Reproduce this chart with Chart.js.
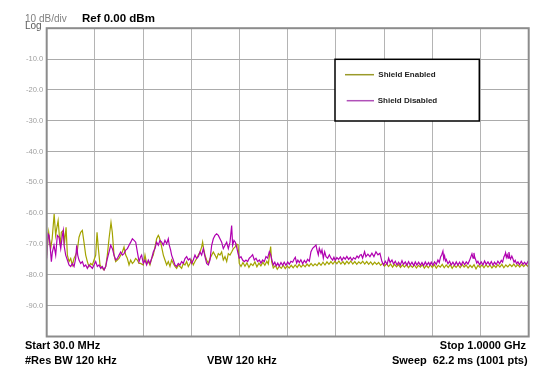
<!DOCTYPE html>
<html>
<head>
<meta charset="utf-8">
<script src="https://cdn.jsdelivr.net/npm/chart.js@4.4.1/dist/chart.umd.min.js"></script>
<style>
  html, body { margin: 0; padding: 0; background: #fff; }
  #wrap { position: relative; width: 540px; height: 379px; overflow: hidden; font-family: "Liberation Sans", Arial, sans-serif; }
  #wrap canvas { position: absolute; left: 0; top: 0; }
  .t { position: absolute; white-space: pre; line-height: 1; }
  .b { font-weight: bold; color: #000; }
</style>
</head>
<body>
<div id="wrap">
  <canvas id="c" width="540" height="379"></canvas>
  <div class="t" style="left:25px;top:14px;font-size:10px;color:#808080;">10 dB/div</div>
  <div class="t" style="left:25px;top:21px;font-size:10px;color:#5a5a5a;">Log</div>
  <div class="t b" style="left:82px;top:12.8px;font-size:11.5px;">Ref 0.00 dBm</div>
  <div class="t b" style="left:25px;top:340px;font-size:11px;">Start 30.0 MHz</div>
  <div class="t b" style="left:25px;top:354.5px;font-size:11px;">#Res BW 120 kHz</div>
  <div class="t b" style="left:207px;top:354.5px;font-size:11px;">VBW 120 kHz</div>
  <div class="t b" style="right:14px;top:340px;font-size:11px;">Stop 1.0000 GHz</div>
  <div class="t b" style="right:12.4px;top:354.5px;font-size:11px;">Sweep  62.2 ms (1001 pts)</div>
  <div class="t b" style="left:378.3px;top:70.5px;font-size:8px;color:#222;">Shield Enabled</div>
  <div class="t b" style="left:377.7px;top:96.5px;font-size:8px;color:#222;">Shield Disabled</div>
</div>
<script>
// ---- data (frequency in MHz, level in dBm) ----
const seriesNames = ['Shield Enabled', 'Shield Disabled'];
const xGridMHz = [30, 127, 224, 321, 418, 515, 612, 709, 806, 903, 1000];
const yGridDbm = [0, -10, -20, -30, -40, -50, -60, -70, -80, -90, -100];

const enabledTrace = [
  [30,-73.6],[34,-66.2],[38,-71.5],[41,-68.3],[45,-60.3],[48,-67.2],[50,-65.1],[53,-62.4],[57,-70.4],[59.5,-66.2],
  [63.5,-65.6],[66,-69.4],[69,-64.6],[71.6,-73.6],[75,-75.7],[78.3,-74.7],[81.6,-76.8],[85,-74.7],[88.3,-73.6],[91.7,-72],
  [95,-67.8],[98.4,-66.2],[101.7,-65.6],[105,-69.4],[108.5,-73.6],[111.8,-75.7],[115,-77.3],[118.5,-76.3],[121.9,-76.8],[125.2,-75.2],
  [128.6,-73.6],[131.3,-66.2],[134,-71.5],[137.3,-76.8],[142,-77.9],[145.4,-78.4],[148.7,-77.3],[152,-73.6],[155.4,-68.3],[159.4,-63],
  [162,-66.2],[165.5,-73.6],[168.8,-75.7],[172.2,-75.2],[175.5,-74.7],[178.9,-73.6],[182.2,-72.6],[185.6,-71],[189,-73.6],[192.3,-74.7],
  [195.7,-76.8],[199,-75.2],[202.4,-76.3],[205.7,-75.7],[209,-74.7],[212.4,-75.2],[215.7,-76.3],[219,-76.3],[224.4,-76.8],[227.8,-73.6],
  [231.1,-76.3],[234.5,-75.7],[237.8,-76.8],[241.2,-74.7],[244.5,-73.6],[247.9,-71],[251.2,-68.3],[254.6,-67.2],[256.6,-67.8],[259.3,-69.4],
  [262,-71.5],[264.7,-73.6],[268,-75.2],[271.4,-76.8],[274.7,-75.7],[278.1,-77.3],[281.4,-75.2],[284.8,-76.3],[288.1,-77.3],[291.5,-77.9],
  [294.8,-76.8],[298.2,-77.3],[301.5,-77.9],[304.9,-76.3],[308.3,-76.8],[311.6,-75.7],[315,-77.3],[318.3,-76.3],[321.7,-75.2],[325,-76.8],
  [328.4,-75.7],[331.8,-74.7],[335.1,-73.6],[338.5,-72.6],[341.8,-71],[343.8,-69.4],[345.2,-71],[348.5,-73.6],[351.9,-75.2],[355.3,-76.3],
  [358.6,-74.7],[362,-73.6],[365.3,-72.6],[368.7,-73.6],[372,-74.7],[375.4,-73.1],[378.7,-73.6],[382.1,-72.6],[385.4,-75.2],[388.8,-74.1],
  [392.2,-75.7],[395.5,-73.1],[398.9,-73.6],[402.2,-72.6],[405.6,-71.5],[408.9,-71],[412.3,-70],[415,-70.3],[417.5,-76.3],[421,-77.3],
  [425,-76.0],[429,-77.2],[433,-76.1],[437,-77.6],[441,-76.4],[445,-77.0],[449,-75.8],[453,-77.4],[457,-76.2],[461,-77.1],
  [465,-75.9],[469,-76.9],[473,-75.6],[476,-76.5],[478,-74.1],[480.7,-70.8],[482.7,-75.7],[486,-77.8],[490,-77.0],[494,-78.2],
  [498,-77.2],[502,-77.9],[506,-76.9],[510,-78.0],[514,-77.1],[518,-77.8],[522,-76.9],[526,-77.7],[530,-76.8],[534,-77.6],
  [538,-76.6],[542,-77.5],[546,-76.7],[550,-77.4],[554,-76.5],[558,-77.2],[562,-76.3],[566,-77.1],[570,-76.4],[574,-77.0],
  [578,-76.1],[582,-76.9],[586,-75.9],[590,-76.8],[594,-75.8],[598,-76.6],[602,-75.7],[606,-76.5],[610,-75.6],[614,-76.4],
  [618,-75.5],[622,-76.5],[626,-75.7],[630,-76.6],[634,-75.6],[638,-76.4],[642,-75.5],[646,-76.5],[650,-75.7],[654,-76.6],
  [658,-75.8],[662,-76.4],[666,-75.6],[670,-76.5],[674,-75.7],[678,-76.6],[682,-75.8],[686,-76.7],[690,-75.9],[694,-76.6],
  [698,-76.0],[702,-76.9],[706,-76.2],[710,-77.2],[714,-76.4],[718,-77.3],[722,-76.5],[726,-77.5],[730,-76.6],[734,-77.4],
  [738,-76.7],[742,-77.6],[746,-76.8],[750,-77.5],[754,-76.6],[758,-77.7],[762,-76.9],[766,-77.6],[770,-76.8],[774,-77.8],
  [778,-76.9],[782,-77.5],[786,-76.7],[790,-77.8],[794,-76.9],[798,-77.7],[802,-76.8],[806,-77.6],[810,-76.7],[814,-77.8],
  [818,-76.9],[822,-77.5],[826,-76.6],[830,-77.7],[834,-76.8],[838,-77.6],[842,-76.7],[846,-77.9],[850,-76.9],[854,-77.6],
  [858,-76.8],[862,-77.7],[866,-76.6],[870,-77.5],[874,-76.8],[878,-77.8],[882,-76.9],[886,-77.6],[890,-76.7],[894,-78.1],
  [898,-76.9],[902,-77.6],[906,-76.8],[910,-77.7],[914,-76.7],[918,-77.5],[922,-76.8],[926,-77.8],[930,-76.9],[934,-77.6],
  [938,-76.7],[942,-77.5],[946,-76.6],[950,-77.7],[954,-76.8],[958,-77.4],[962,-76.6],[966,-77.3],[970,-76.5],[974,-77.4],
  [978,-76.7],[982,-77.5],[986,-76.6],[990,-77.3],[994,-76.5],[998,-77.2],[1000,-76.8]
];

const disabledTrace = [
  [30,-74.7],[32.7,-66.7],[34.7,-67.2],[36.7,-70.4],[39.4,-75.7],[41.4,-72.6],[44.7,-70.4],[48.1,-73.6],[51.4,-67.2],[54.8,-67.8],
  [58.2,-71.5],[61.5,-67.2],[63.4,-65.6],[64.9,-70.4],[68.2,-73.6],[71.6,-75.2],[74.9,-76.8],[78.3,-77.3],[81.6,-76.3],[85,-77.3],
  [88.3,-74.7],[90.4,-70.4],[92.4,-73.6],[95,-75.2],[98.4,-76.3],[101.8,-75.7],[105.1,-77.3],[108.5,-76.8],[111.8,-77.9],[115.2,-76.8],
  [118.5,-77.3],[121.9,-77.9],[125.2,-76.8],[128.6,-75.7],[131.9,-77.3],[135.3,-76.8],[138.7,-77.9],[142,-77.3],[145.4,-78.4],[148.7,-77.3],
  [152.1,-74.7],[155.4,-72.6],[158.8,-70.4],[162.2,-71.5],[165.5,-73.6],[168.9,-75.2],[172.2,-74.7],[175.6,-73.6],[178.9,-72.6],[182.3,-73.6],
  [185.6,-73.1],[189,-72],[192.4,-71.5],[195.7,-70.4],[199.1,-69.4],[202.4,-68.3],[205.8,-68.8],[209.1,-69.4],[212.5,-72.6],[215.9,-75.7],
  [219,-74.1],[221,-73.6],[224.4,-76.3],[227.8,-75.2],[231.1,-76.8],[234.5,-75.2],[237.8,-76.3],[241.2,-74.7],[244.5,-72.6],[247.9,-71.5],
  [251.2,-69.4],[254.6,-70.4],[257.9,-68.8],[261.3,-69.4],[264.7,-70.4],[268,-68.8],[271.4,-69.9],[274.7,-68.3],[276.7,-70.4],[279.4,-72],
  [281.4,-73.6],[284.8,-75.2],[288.1,-76.8],[291.5,-77.3],[294.8,-76.3],[298.2,-76.8],[301.5,-75.7],[304.9,-76.3],[308.3,-74.7],[311.6,-74.1],
  [315,-75.2],[318.3,-74.7],[321.7,-76.3],[325,-75.2],[328.4,-73.6],[331.8,-74.7],[335.1,-74.1],[338.5,-72.6],[341.8,-73.6],[345.2,-71.5],
  [348.5,-74.1],[351.9,-76.3],[355.3,-76.8],[358.6,-75.2],[362,-70.4],[365.3,-68.3],[368.7,-67.2],[372,-66.7],[375.4,-67.2],[378.7,-68.3],
  [382.1,-69.4],[385.4,-71.5],[388.8,-70.4],[392.2,-69.4],[395.5,-71.5],[398.9,-69.4],[402.2,-64],[404.2,-70.4],[406.9,-68.8],[409.6,-69.4],
  [412.3,-71],[415,-73],[417.6,-74.6],[421,-74.1],[424.3,-75.2],[427.7,-75.7],[431,-75.2],[434.4,-75.7],[437.7,-74.6],[441.1,-74.1],
  [444.4,-73.5],[447.8,-75.2],[451.2,-74.6],[454.5,-75.7],[457.9,-75.2],[461.2,-76.2],[464.6,-75.2],[467.9,-75.7],[471.3,-74.1],[474.6,-74.6],
  [478,-72.5],[480.7,-73.5],[483.3,-75.2],[486,-76.8],[489,-75.9],[492,-77.1],[495,-76.2],[498,-77.2],[501.5,-76.0],[504.8,-76.9],
  [508,-75.9],[511.5,-76.9],[515,-75.8],[518.2,-76.6],[521.5,-75.6],[525,-75.9],[527.5,-75.0],[530.3,-74.3],[533,-76.2],[535.5,-75.2],
  [538.4,-76.0],[541.5,-75.1],[545.1,-76.4],[548.5,-75.3],[551.8,-76.1],[555,-75.0],[558.5,-75.6],[561.8,-72.5],[565.2,-71.4],[568.5,-70.9],
  [571.9,-70.3],[573.9,-71.9],[576.6,-73.5],[578.6,-71.4],[582,-73],[584,-71.9],[586.7,-74.6],[589.4,-72.5],[592.1,-74.1],[595.4,-74.6],
  [598.8,-73.5],[602.2,-74.6],[605.5,-75.2],[608,-74.3],[610.7,-75.3],[614,-74.4],[617.4,-75.0],[621,-74.2],[624.1,-75.3],[627.5,-74.3],
  [630.8,-74.9],[634,-74.0],[637.6,-75.0],[641,-74.3],[644.3,-75.3],[647.5,-74.4],[651,-74.9],[654.5,-73.9],[657.7,-74.5],[660.5,-73.6],
  [663,-73.4],[665.7,-74.6],[669.7,-72.5],[672.4,-74.1],[676.4,-73.3],[680.5,-74.1],[684.5,-73],[688.5,-74.1],[692.6,-72.5],[696.6,-73.5],
  [700.6,-73],[704.7,-75.7],[708,-76.8],[711.4,-75.6],[715,-76.6],[718.1,-74.6],[721,-76.0],[724.8,-75.2],[728,-76.5],[731.5,-75.6],
  [735,-76.8],[738.2,-75.9],[741.5,-76.9],[745,-75.4],[748,-76.6],[751.6,-75.8],[755,-76.9],[758.3,-75.7],[761.5,-76.8],[765,-75.9],
  [768.5,-77.0],[771.8,-75.8],[775,-76.8],[778.5,-75.9],[782,-76.9],[785.2,-76.0],[788.5,-77.0],[791.9,-75.8],[795,-76.8],[798.6,-76.0],
  [801,-76.9],[803.9,-75.9],[807,-76.9],[810.6,-75.8],[814,-76.6],[817.3,-75.2],[820,-76.0],[822.7,-74.2],[825,-73.5],[827.4,-72.3],
  [829,-74.8],[830.7,-73.8],[832.5,-75.5],[834.1,-75.0],[837.5,-76.4],[840.8,-75.6],[844,-76.8],[847.5,-75.9],[851,-76.9],[854.2,-75.8],
  [857.5,-76.8],[860.9,-75.9],[864,-76.9],[867.6,-75.7],[871,-76.7],[874.4,-75.8],[877.7,-76.5],[881,-75.3],[883.5,-74.2],[885.8,-73.2],
  [888,-74.6],[889.8,-72.9],[891.5,-74.4],[893.1,-75.0],[895.5,-76.2],[897.8,-75.6],[901,-76.7],[904.5,-75.8],[908,-76.8],[911.2,-75.5],
  [914.5,-76.6],[918,-75.8],[921.5,-76.7],[924.7,-75.7],[928,-76.8],[931.3,-75.9],[934.5,-76.7],[938,-75.6],[941.5,-76.4],[944.8,-75.3],
  [947.5,-75.9],[950.1,-74.2],[952,-73.6],[953.5,-72.8],[955,-74.3],[956.8,-73.5],[958.5,-74.6],[960.2,-72.6],[962,-74.2],[963.5,-74.9],
  [966,-73.9],[968.2,-74.8],[970.5,-75.9],[972.9,-75.3],[975.5,-76.4],[978.3,-75.8],[981.5,-76.7],[985,-75.6],[988.5,-76.6],[991.7,-75.9],
  [995,-76.7],[998,-75.8],[1000,-76.4]
];

// ---- styles ----
const enabledColor = '#a3a300';
const disabledColor = '#b000b0';

const toXY = arr => arr.map(p => ({ x: p[0], y: p[1] }));

const framePlugin = {
  id: 'frame',
  afterDraw(chart) {
    const { ctx, chartArea: a } = chart;
    ctx.save();
    ctx.strokeStyle = '#8c8c8c';
    ctx.lineWidth = 2;
    ctx.strokeRect(a.left, a.top, a.right - a.left, a.bottom - a.top);
    // legend box (inside plot)
    const lx = 335, ly = 59.3, lw = 144.3, lh = 61.7;
    ctx.fillStyle = '#ffffff';
    ctx.fillRect(lx, ly, lw, lh);
    ctx.strokeStyle = '#000';
    ctx.lineWidth = 1.5;
    ctx.strokeRect(lx, ly, lw, lh);
    ctx.lineWidth = 1.5;
    ctx.strokeStyle = '#9a9a2a';
    ctx.beginPath(); ctx.moveTo(345, 74.7); ctx.lineTo(374, 74.7); ctx.stroke();
    ctx.strokeStyle = '#b050b8';
    ctx.beginPath(); ctx.moveTo(346.7, 100.7); ctx.lineTo(374, 100.7); ctx.stroke();
    ctx.restore();
  }
};

new Chart(document.getElementById('c'), {
  type: 'line',
  data: {
    datasets: [
      { label: seriesNames[1], data: toXY(disabledTrace), borderColor: disabledColor, borderWidth: 1.2, pointRadius: 0, tension: 0, fill: false },
      { label: seriesNames[0], data: toXY(enabledTrace), borderColor: enabledColor, borderWidth: 1.2, pointRadius: 0, tension: 0, fill: false }
    ]
  },
  options: {
    responsive: false,
    animation: false,
    devicePixelRatio: 1,
    layout: { padding: { left: 0, right: 11.3, top: 28.2, bottom: 42.5 } },
    plugins: { legend: { display: false }, tooltip: { enabled: false }, title: { display: false } },
    scales: {
      x: {
        type: 'linear', min: 30, max: 1000,
        afterBuildTicks: s => { s.ticks = xGridMHz.map(v => ({ value: v })); },
        afterFit: s => { s.height = 0; },
        ticks: { display: false },
        grid: { color: '#b4b4b4', lineWidth: 1, drawTicks: false },
        border: { display: false }
      },
      y: {
        type: 'linear', min: -100, max: 0,
        afterBuildTicks: s => { s.ticks = yGridDbm.map(v => ({ value: v })); },
        afterFit: s => { s.width = 46.7; },
        ticks: {
          padding: 3.5,
          color: '#a0a0a0',
          font: { family: '"Liberation Sans", Arial, sans-serif', size: 7.6 },
          callback: v => (v === 0 || v === -100) ? '' : v.toFixed(1)
        },
        grid: { color: '#ababab', lineWidth: 1, drawTicks: false },
        border: { display: false }
      }
    }
  },
  plugins: [framePlugin]
});
</script>
</body>
</html>
